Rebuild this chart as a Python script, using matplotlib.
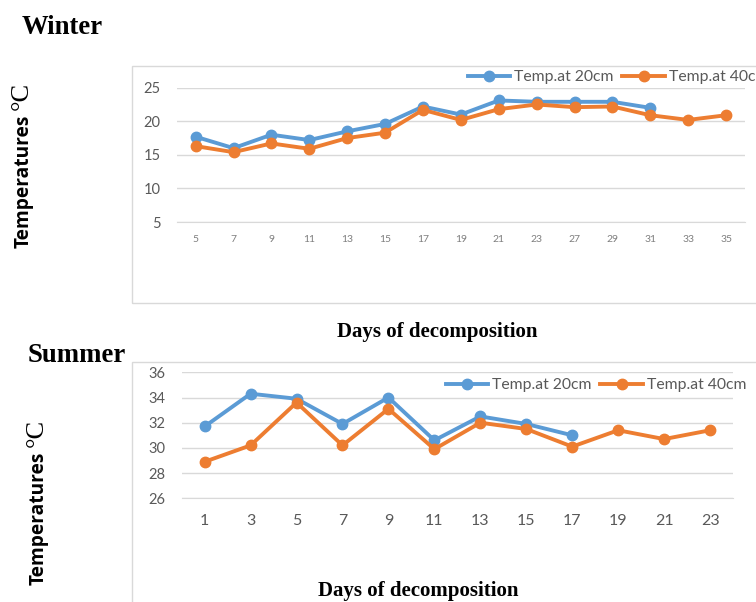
import matplotlib
matplotlib.use("Agg")
import matplotlib.pyplot as plt
from matplotlib.patches import Rectangle

# winter readings (day of decomposition, soil temperature in C)
winter_days = ["5", "7", "9", "11", "13", "15", "17", "19", "21", "23", "27", "29", "31", "33", "35"]
winter_20cm = [17.7, 16.0, 18.0, 17.2, 18.5, 19.6, 22.2, 21.0, 23.1, 22.9, 22.9, 22.9, 22.0]
winter_40cm = [16.3, 15.4, 16.7, 15.9, 17.5, 18.3, 21.7, 20.2, 21.8, 22.5, 22.1, 22.2, 20.9, 20.2, 20.9]

# summer readings
summer_days = ["1", "3", "5", "7", "9", "11", "13", "15", "17", "19", "21", "23"]
summer_20cm = [31.7, 34.3, 33.9, 31.9, 34.0, 30.6, 32.5, 31.9, 31.0]
summer_40cm = [28.9, 30.2, 33.6, 30.2, 33.1, 29.9, 32.0, 31.5, 30.1, 31.4, 30.7, 31.4]

BLUE = "#5B9BD5"
ORANGE = "#ED7D31"
GRID = "#D9D9D9"
TICK = "#595959"
SANS = ["Lato", "DejaVu Sans"]
SERIF = ["Liberation Serif", "DejaVu Serif"]

W, H = 756, 602
fig = plt.figure(figsize=(W / 100, H / 100), dpi=100)


def fx(x):
    return x / W


def fy(y):
    return 1 - y / H


def px_axes(left, top, right, bottom):
    return fig.add_axes([fx(left), fy(bottom), (right - left) / W, (bottom - top) / H])


# light chart frames
for (x0, y0, x1, y1) in [(131.5, 66, 800, 303), (131.5, 362, 800, 700)]:
    fig.patches.append(Rectangle((fx(x0), fy(y1)), (x1 - x0) / W, (y1 - y0) / H,
                                 transform=fig.transFigure, fill=False,
                                 edgecolor=GRID, lw=1, clip_on=False))


def draw_panel(ax, days, s20, s40, ylim, yticks, xsize, ysize, xpad, ycol):
    n = len(days)
    ax.set_xlim(-0.5, n - 0.5)
    ax.set_ylim(*ylim)
    ax.set_yticks(yticks)
    ax.set_xticks(range(n))
    ax.set_xticklabels(days)
    for s in ["top", "right", "left"]:
        ax.spines[s].set_visible(False)
    ax.spines["bottom"].set_color(GRID)
    ax.grid(axis="y", color=GRID, lw=1)
    ax.set_axisbelow(True)
    ax.tick_params(length=0)
    ax.tick_params(axis="x", pad=xpad, labelsize=xsize, labelcolor=ycol)
    ax.tick_params(axis="y", pad=11.5, labelsize=ysize, labelcolor=TICK)
    for lab in ax.get_xticklabels() + ax.get_yticklabels():
        lab.set_family(SANS)
    ax.plot(range(len(s20)), s20, color=BLUE, lw=2.8, marker="o", ms=7.5,
            label="Temp.at 20cm", clip_on=False, zorder=3)
    ax.plot(range(len(s40)), s40, color=ORANGE, lw=2.8, marker="o", ms=7.5,
            label="Temp.at 40cm", clip_on=False, zorder=4)


def add_legend(ax, x, y):
    ax.legend(loc="center left", bbox_to_anchor=(fx(x), fy(y)),
              bbox_transform=fig.transFigure, ncol=2, frameon=False,
              borderpad=0, borderaxespad=0, handlelength=2.7,
              handletextpad=0.25, columnspacing=0.55,
              prop={"family": SANS, "size": 11.3}, labelcolor=TICK)


ax_w = px_axes(176.7, 87.7, 745, 222)
draw_panel(ax_w, winter_days, winter_20cm, winter_40cm, (5, 25), [5, 10, 15, 20, 25],
           7.5, 10.5, 9.5, "#7F7F7F")
add_legend(ax_w, 468, 77)

ax_s = px_axes(181.7, 372.3, 733, 498.3)
draw_panel(ax_s, summer_days, summer_20cm, summer_40cm, (26, 36), [26, 28, 30, 32, 34, 36],
           11.5, 10.5, 11.5, TICK)
add_legend(ax_s, 446, 385)

# panel titles
fig.text(fx(22), fy(27), "Winter", family=SERIF, weight="bold", size=19.3,
         ha="left", va="center")
fig.text(fx(28), fy(355), "Summer", family=SERIF, weight="bold", size=19.3,
         ha="left", va="center")

# axis titles
for (tx, ty, cx, cy) in [(24, 181, 22, 96), (38.5, 518.5, 37, 433)]:
    fig.text(fx(tx), fy(ty), "Temperatures", family=["Open Sans", "DejaVu Sans"],
             weight="bold", size=13.8, rotation=90, ha="center", va="center")
    fig.text(fx(cx), fy(cy), "°C", family=SERIF, size=19, rotation=90,
             ha="center", va="center")

fig.text(fx(437), fy(332), "Days of decomposition", family=SERIF, weight="bold",
         size=15, ha="center", va="center")
fig.text(fx(418), fy(591), "Days of decomposition", family=SERIF, weight="bold",
         size=15, ha="center", va="center")

fig.savefig("out.png", dpi=100)
